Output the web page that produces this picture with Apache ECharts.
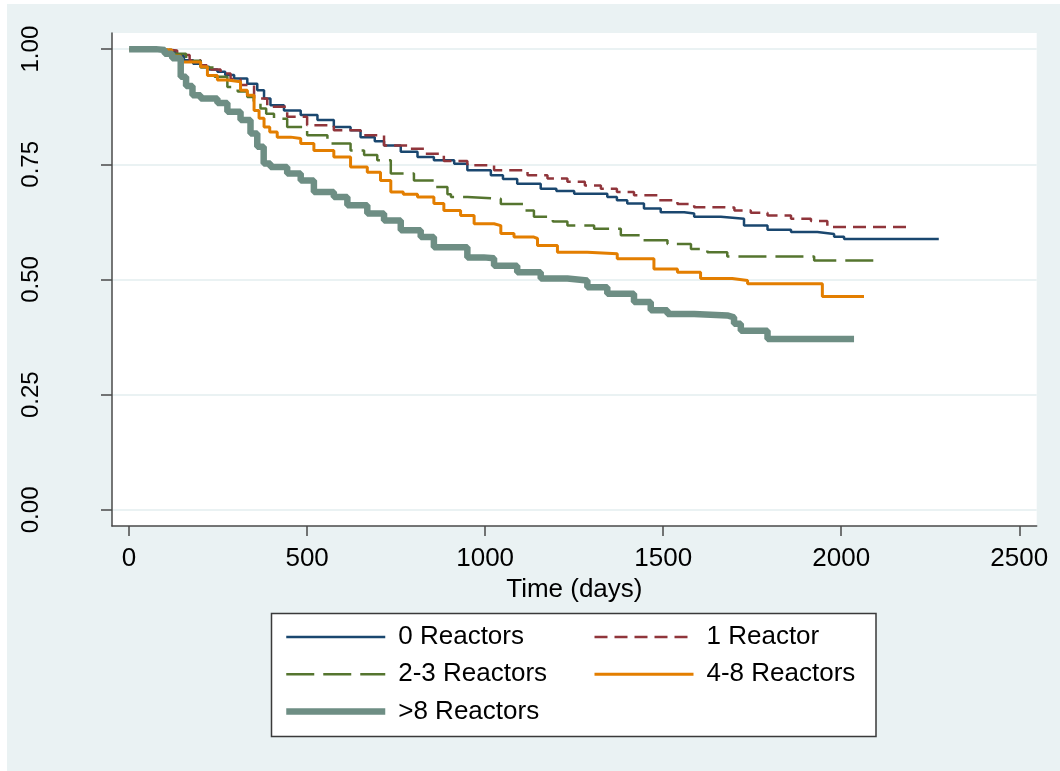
<!DOCTYPE html>
<html>
<head>
<meta charset="utf-8">
<script src="https://cdn.jsdelivr.net/npm/echarts@6/dist/echarts.min.js"></script>
<style>
  html, body { margin: 0; padding: 0; background: #fff; }
  #chart { width: 1060px; height: 771px; }
</style>
</head>
<body>
<div id="chart"></div>
<script>
// Kaplan-Meier estimates: time (days) and survival at each drop
var t0 = [0, 80, 107, 130, 154, 180, 201, 225, 248, 270, 295, 332, 360, 379, 397, 435, 482, 529, 575, 622, 650, 690, 716, 763, 810, 856, 913, 950, 1016, 1050, 1090, 1156, 1200, 1250, 1343, 1370, 1399, 1446, 1493, 1559, 1587, 1662, 1727, 1793, 1859, 1933, 1980, 2008, 2274];
var s0 = [1, 0.998, 0.994, 0.985, 0.976, 0.968, 0.962, 0.956, 0.951, 0.944, 0.936, 0.925, 0.911, 0.893, 0.878, 0.867, 0.857, 0.846, 0.831, 0.824, 0.809, 0.800, 0.791, 0.777, 0.766, 0.759, 0.751, 0.737, 0.726, 0.718, 0.708, 0.697, 0.692, 0.686, 0.679, 0.672, 0.665, 0.654, 0.646, 0.643, 0.636, 0.632, 0.617, 0.608, 0.603, 0.599, 0.593, 0.588, 0.588];

var t1 = [0, 90, 135, 170, 201, 230, 257, 285, 313, 351, 388, 444, 500, 575, 650, 716, 782, 828, 884, 950, 1025, 1119, 1175, 1231, 1280, 1325, 1370, 1418, 1484, 1540, 1587, 1662, 1700, 1746, 1793, 1859, 1915, 1961, 2195];
var s1 = [1, 0.997, 0.987, 0.976, 0.965, 0.956, 0.947, 0.935, 0.922, 0.893, 0.875, 0.853, 0.835, 0.824, 0.813, 0.791, 0.784, 0.773, 0.757, 0.748, 0.737, 0.726, 0.719, 0.712, 0.704, 0.697, 0.690, 0.683, 0.672, 0.664, 0.657, 0.656, 0.650, 0.645, 0.639, 0.632, 0.627, 0.614, 0.614];

var t23 = [0, 80, 120, 160, 201, 240, 276, 305, 332, 350, 369, 385, 407, 444, 500, 557, 622, 660, 697, 735, 800, 856, 894, 904, 950, 1044, 1109, 1137, 1190, 1231, 1306, 1381, 1437, 1512, 1578, 1624, 1680, 1924, 2111];
var s23 = [1, 0.998, 0.990, 0.975, 0.960, 0.940, 0.918, 0.908, 0.896, 0.885, 0.871, 0.860, 0.849, 0.831, 0.813, 0.795, 0.780, 0.770, 0.759, 0.730, 0.715, 0.701, 0.685, 0.679, 0.675, 0.664, 0.650, 0.636, 0.626, 0.617, 0.610, 0.596, 0.585, 0.577, 0.566, 0.559, 0.550, 0.541, 0.541];

var t48 = [0, 80, 120, 145, 201, 220, 248, 276, 313, 332, 351, 365, 379, 395, 416, 454, 482, 519, 575, 622, 669, 706, 735, 770, 810, 856, 884, 931, 969, 1025, 1044, 1081, 1137, 1147, 1203, 1287, 1371, 1437, 1474, 1540, 1605, 1694, 1737, 1947, 2064];
var s48 = [1, 0.998, 0.985, 0.972, 0.962, 0.943, 0.933, 0.929, 0.911, 0.900, 0.867, 0.850, 0.831, 0.820, 0.809, 0.806, 0.795, 0.780, 0.766, 0.744, 0.733, 0.715, 0.690, 0.685, 0.679, 0.665, 0.650, 0.639, 0.621, 0.617, 0.600, 0.592, 0.589, 0.574, 0.559, 0.556, 0.545, 0.545, 0.523, 0.516, 0.502, 0.498, 0.491, 0.463, 0.463];

var t8 = [0, 75, 100, 121, 145, 160, 178, 201, 248, 276, 313, 341, 360, 378, 397, 444, 482, 519, 575, 613, 669, 716, 763, 819, 856, 950, 996, 1025, 1090, 1156, 1231, 1287, 1343, 1418, 1465, 1512, 1587, 1680, 1699, 1718, 1793, 2036];
var s8 = [1, 0.998, 0.990, 0.980, 0.940, 0.920, 0.900, 0.893, 0.883, 0.864, 0.846, 0.817, 0.788, 0.752, 0.744, 0.730, 0.715, 0.690, 0.679, 0.661, 0.643, 0.628, 0.607, 0.592, 0.570, 0.548, 0.546, 0.530, 0.516, 0.502, 0.498, 0.483, 0.469, 0.451, 0.433, 0.425, 0.422, 0.418, 0.404, 0.389, 0.371, 0.371];

var groups = ['0 Reactors', '1 Reactor', '2-3 Reactors', '4-8 Reactors', '>8 Reactors'];
var xTicks = [0, 500, 1000, 1500, 2000, 2500];
var yTicks = [0, 0.25, 0.5, 0.75, 1];

function pairs(t, s) {
	return t.map(function (v, i) { return [v, s[i]]; });
}

var font = "'Liberation Sans', Arial, sans-serif";
var chart = echarts.init(document.getElementById('chart'));

function km(name, t, s, color, width, type) {
	return {
		name: name,
		type: 'line',
		step: 'end',
		symbol: 'none',
		data: pairs(t, s),
		lineStyle: { color: color, width: width, type: type },
		itemStyle: { color: color },
		emphasis: { disabled: true }
	};
}

var legendText = { fontSize: 26, color: '#000', lineHeight: 28, padding: [0, 0, 0, 8], fontFamily: font };

var option = {
	backgroundColor: '#ffffff',
	animation: false,
	textStyle: { fontFamily: font },
	graphic: [{
		type: 'rect',
		z: -20,
		shape: { x: 7, y: 4, width: 1053, height: 767 },
		style: { fill: '#eaf2f3' }
	}, {
		type: 'rect',
		z: -10,
		shape: { x: 271.5, y: 613.5, width: 604.5, height: 123 },
		style: { fill: '#ffffff', stroke: '#3a3a3a', lineWidth: 1.5 }
	}],
	grid: {
		left: 112, right: 23.3, top: 33, bottom: 245,
		show: true, backgroundColor: '#ffffff', borderWidth: 0
	},
	xAxis: {
		type: 'value',
		min: -48, max: 2549,
		name: 'Time (days)',
		nameLocation: 'middle',
		nameGap: 42,
		nameTextStyle: { fontSize: 26, color: '#000', fontFamily: font },
		axisLine: { onZero: false, lineStyle: { color: '#4a4a4a', width: 1.5 } },
		axisTick: { customValues: xTicks, length: 10, lineStyle: { color: '#4a4a4a', width: 1.5 } },
		axisLabel: {
			customValues: xTicks, margin: 20, fontSize: 26, color: '#000', fontFamily: font,
			formatter: function (v) { return String(v); }
		},
		splitLine: { show: false }
	},
	yAxis: {
		type: 'value',
		min: -0.035, max: 1.035,
		axisLine: { show: true, onZero: false, lineStyle: { color: '#4a4a4a', width: 1.5 } },
		axisTick: { show: true, customValues: yTicks, length: 11, lineStyle: { color: '#4a4a4a', width: 1.5 } },
		axisLabel: {
			customValues: yTicks, rotate: 90, margin: 69, fontSize: 24, color: '#000', fontFamily: font,
			formatter: function (v) { return v.toFixed(2); }
		},
		splitLine: { show: true, lineStyle: { color: '#eaf2f3', width: 2 } }
	},
	legend: [{
		orient: 'vertical',
		left: 283, top: 623,
		padding: 0,
		itemWidth: 99, itemHeight: 28, itemGap: 9.3,
		itemStyle: { opacity: 0, borderWidth: 0 },
		lineStyle: { width: 'inherit' },
		textStyle: legendText,
		selectedMode: false,
		data: ['0 Reactors', '2-3 Reactors', '>8 Reactors']
	}, {
		orient: 'vertical',
		left: 593, top: 623,
		padding: 0,
		itemWidth: 99, itemHeight: 28, itemGap: 9.3,
		itemStyle: { opacity: 0, borderWidth: 0 },
		lineStyle: { width: 'inherit' },
		textStyle: legendText,
		selectedMode: false,
		data: ['1 Reactor', '4-8 Reactors']
	}],
	series: [
		km(groups[0], t0, s0, '#1a476f', 2.5, 'solid'),
		km(groups[1], t1, s1, '#90353b', 2.5, [13, 7]),
		km(groups[2], t23, s23, '#55752f', 2.5, [28, 9]),
		km(groups[3], t48, s48, '#e37e00', 3, 'solid'),
		km(groups[4], t8, s8, '#6e8e84', 6.5, 'solid')
	]
};

chart.setOption(option);
</script>
</body>
</html>
